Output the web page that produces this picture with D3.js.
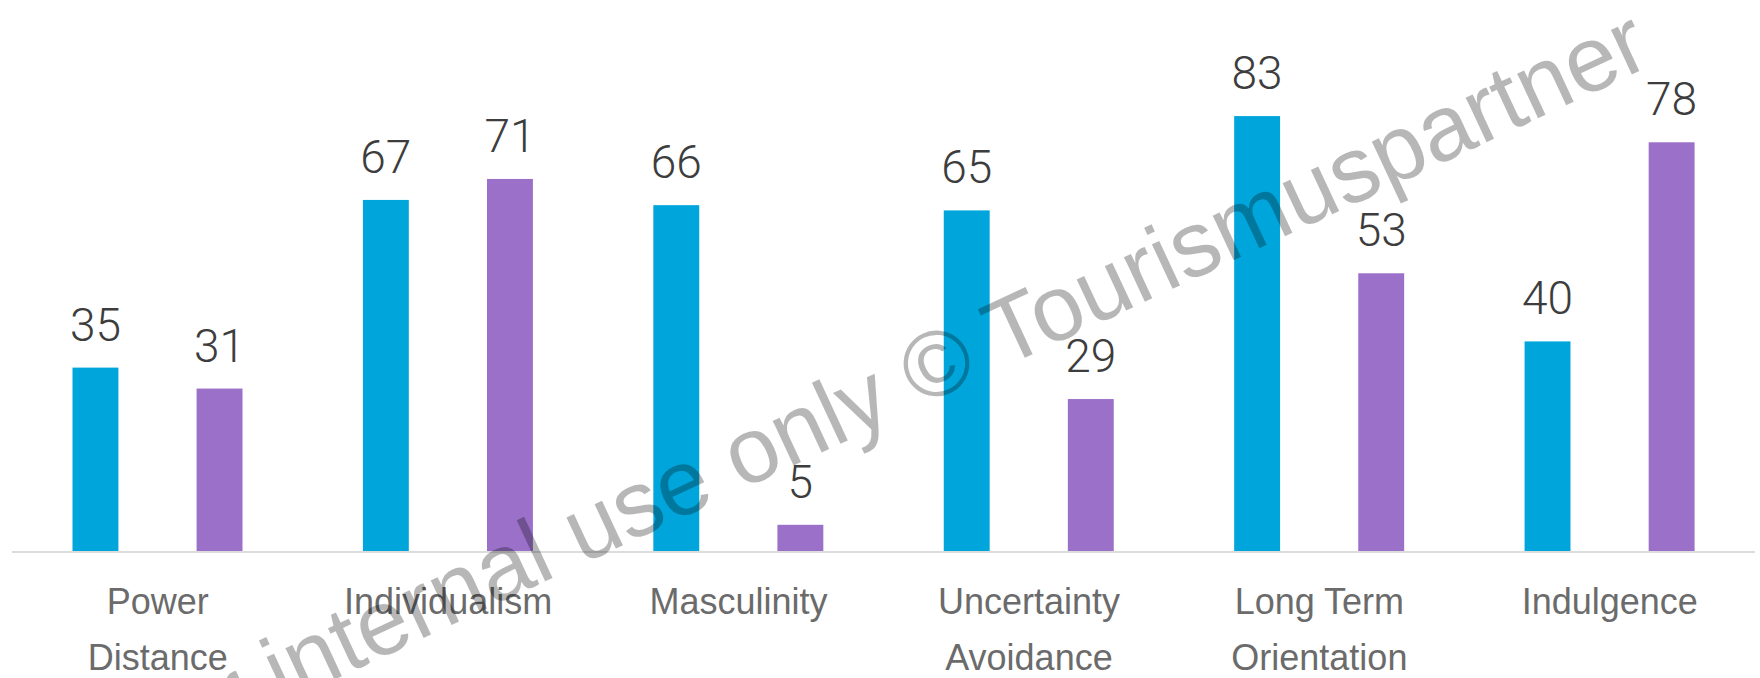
<!DOCTYPE html>
<html>
<head>
<meta charset="utf-8">
<script src="https://cdn.jsdelivr.net/npm/d3@7"></script>
<style>
  html, body { margin: 0; padding: 0; background: #fff; }
  #chart { width: 1760px; height: 678px; }
  .cat-label { font-family: "Liberation Sans", Arial, sans-serif; font-size: 36px; fill: #6b6b6b; }
  .val-label { font-family: Roboto, sans-serif; font-weight: 300; font-size: 46px; fill: #3d3d3d; }
  .watermark { font-family: "Liberation Sans", Arial, sans-serif; font-size: 93px; fill: #000; opacity: 0.28; }
</style>
</head>
<body>
<div id="chart"></div>
<script>
// Hofstede dimensions, two countries (blue vs purple)
const categories = ["Power Distance", "Individualism", "Masculinity", "Uncertainty Avoidance", "Long Term Orientation", "Indulgence"];
const categoryLines = [["Power", "Distance"], ["Individualism"], ["Masculinity"], ["Uncertainty", "Avoidance"], ["Long Term", "Orientation"], ["Indulgence"]];
const seriesKeys = ["first", "second"];
const firstValues = [35, 67, 66, 65, 83, 40];
const secondValues = [31, 71, 5, 29, 53, 78];
const watermarkText = "for internal use only \u00A9 Tourismuspartner";

(function () {
  const width = 1760, height = 678;
  const baseY = 551;

  const svg = d3.select("#chart").append("svg")
    .attr("width", width)
    .attr("height", height);

  const x0 = d3.scaleBand()
    .domain(categories)
    .range([12.5, 1755])
    .padding(0);

  const x1 = d3.scaleBand()
    .domain(seriesKeys)
    .range([60, 230])
    .paddingInner(0.63)
    .paddingOuter(0);

  const y = d3.scaleLinear()
    .domain([0, 100])
    .range([baseY, baseY - 524]);

  const color = d3.scaleOrdinal()
    .domain(seriesKeys)
    .range(["#00a6db", "#9b70c9"]);

  const rows = categories.map((c, i) => ({
    cat: c,
    lines: categoryLines[i],
    values: [
      { key: "first", v: firstValues[i] },
      { key: "second", v: secondValues[i] }
    ]
  }));

  // baseline
  svg.append("line")
    .attr("x1", 12).attr("x2", 1755)
    .attr("y1", baseY + 1).attr("y2", baseY + 1)
    .attr("stroke", "#dcdcdc")
    .attr("stroke-width", 2);

  const groups = svg.selectAll("g.group")
    .data(rows)
    .join("g")
    .attr("class", "group")
    .attr("transform", d => `translate(${x0(d.cat)},0)`);

  groups.selectAll("rect")
    .data(d => d.values)
    .join("rect")
    .attr("x", d => x1(d.key))
    .attr("width", x1.bandwidth())
    .attr("y", d => y(d.v))
    .attr("height", d => y(0) - y(d.v))
    .attr("fill", d => color(d.key));

  groups.selectAll("text.val-label")
    .data(d => d.values)
    .join("text")
    .attr("class", "val-label")
    .attr("x", d => x1(d.key) + x1.bandwidth() / 2)
    .attr("y", d => y(d.v) - 27)
    .attr("text-anchor", "middle")
    .text(d => d.v);

  // category labels (one or two lines)
  const catText = groups.append("text")
    .attr("class", "cat-label")
    .attr("text-anchor", "middle");
  catText.selectAll("tspan")
    .data(d => d.lines)
    .join("tspan")
    .attr("x", x0.bandwidth() / 2)
    .attr("y", (d, i) => 614 + i * 56)
    .text(d => d);

  // watermark
  svg.append("text")
    .attr("class", "watermark")
    .attr("transform", "translate(160,761) rotate(-25)")
    .text(watermarkText);
})();
</script>
</body>
</html>
